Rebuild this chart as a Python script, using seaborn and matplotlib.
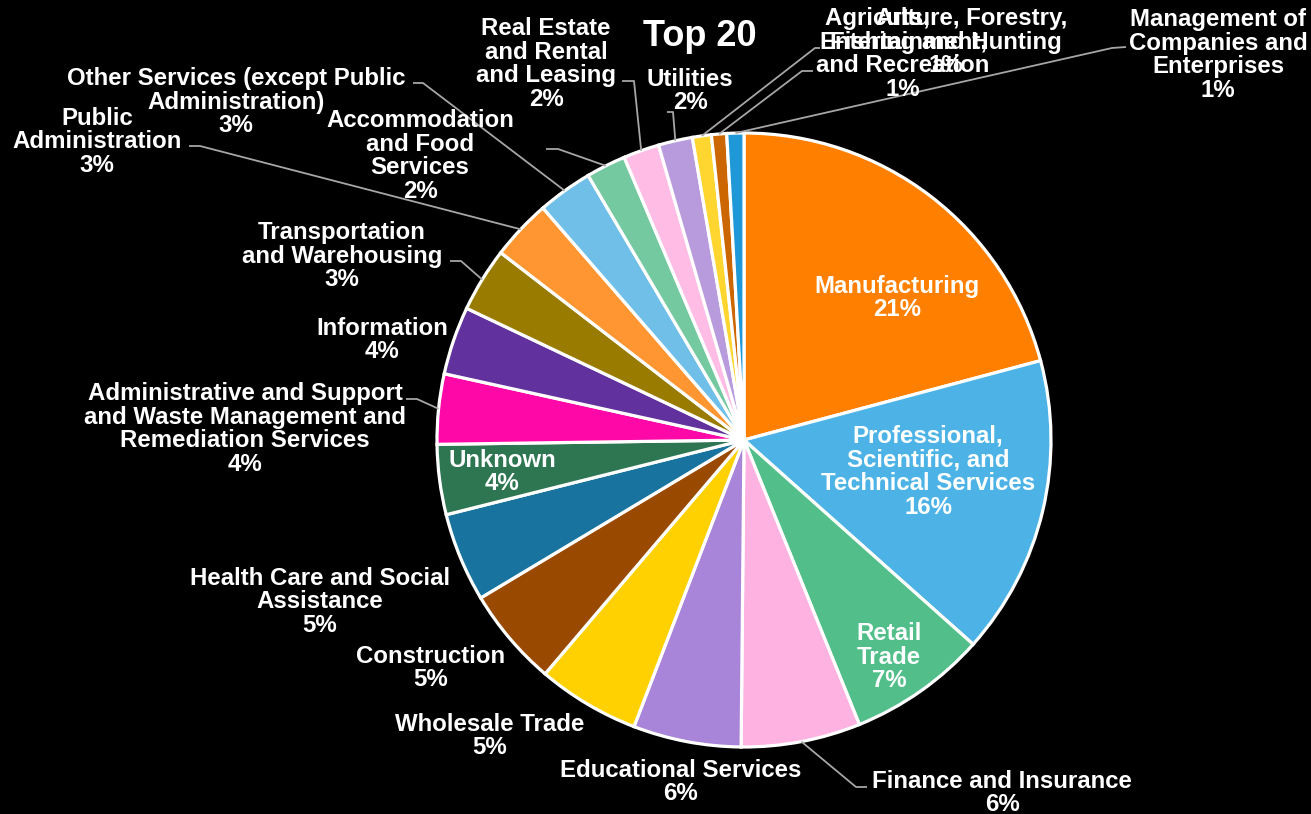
import numpy as np
import matplotlib
matplotlib.use("Agg")
import matplotlib.pyplot as plt
import seaborn as sns

# Industry shares of the top 20 sectors (percent of total)
categories = [
    "Manufacturing",
    "Professional,\nScientific, and\nTechnical Services",
    "Retail\nTrade",
    "Finance and Insurance",
    "Educational Services",
    "Wholesale Trade",
    "Construction",
    "Health Care and Social\nAssistance",
    "Unknown",
    "Administrative and Support\nand Waste Management and\nRemediation Services",
    "Information",
    "Transportation\nand Warehousing",
    "Public\nAdministration",
    "Other Services (except Public\nAdministration)",
    "Accommodation\nand Food\nServices",
    "Real Estate\nand Rental\nand Leasing",
    "Utilities",
    "Agriculture, Forestry,\nFishing and Hunting",
    "Arts,\nEntertainment,\nand Recreation",
    "Management of\nCompanies and\nEnterprises",
]
shares = [20.9, 15.8, 7.3, 6.3, 5.7, 5.4, 5.2, 4.7, 3.7, 3.7,
          3.6, 3.4, 3.2, 2.9, 2.1, 1.9, 1.8, 1.0, 0.8, 0.9]
colors = [
    "#FF7F00", "#4DB3E6", "#52BF8A", "#FDB2E1", "#A885D8",
    "#FFD100", "#994A00", "#18749F", "#2D7651", "#FF08A8",
    "#61329E", "#997B00", "#FF9632", "#6FBFE8", "#74C9A0",
    "#FFBDE6", "#B89BDD", "#FFD630", "#CC6600", "#1E98D6",
]

W, H = 1311, 814
sns.set_theme(style="dark", rc={"figure.facecolor": "black", "axes.facecolor": "black"})
plt.rcParams["font.family"] = ["Liberation Sans", "DejaVu Sans"]


def px(x, y):
    """Canvas pixel position (origin top-left) to data coordinates."""
    return x, H - y


# Label anchor (text-block centre) for each slice, in canvas pixels
label_pos = [
    (897, 298), (928, 472), (889, 657), (1002, 793), (681, 782),
    (490, 736), (431, 668), (320, 602), (502, 472), (245, 429),
    (382, 340), (342, 256), (97, 142), (236, 102), (420, 156),
    (546, 64), (690, 91), (946, 42), (903, 54), (1218, 55),
]
# Leader lines: slice index -> (text end point, elbow point)
leaders = {
    3: ((867, 787), (856, 787)),
    9: ((406, 399), (417, 399)),
    11: ((450, 261), (461, 261)),
    12: ((189, 146), (200, 146)),
    13: ((413, 83), (423, 83)),
    14: ((546, 149), (558, 149)),
    15: ((622, 81), (634, 81)),
    16: ((667, 112), (673, 112)),
    17: ((820, 48), (815, 48)),
    18: ((813, 71), (802, 71)),
    19: ((1126, 47), (1112, 48)),
}

fig = plt.figure(figsize=(W / 100, H / 100), dpi=100, facecolor="black")
ax = fig.add_axes([0, 0, 1, 1])
ax.set_facecolor("black")

center = px(744, 440)
radius = 307
wedges, _ = ax.pie(
    shares, colors=colors, startangle=90, counterclock=False,
    center=center, radius=radius,
    wedgeprops=dict(edgecolor="white", linewidth=2.3),
)
ax.set_xlim(0, W)
ax.set_ylim(0, H)
ax.set_aspect("equal")
ax.axis("off")

total = sum(shares)
font = dict(color="white", fontweight="bold", fontsize=17.3,
            ha="center", va="center", linespacing=1.04)

for i, (name, val) in enumerate(zip(categories, shares)):
    text = f"{name}\n{val / total * 100:.0f}%"
    x, y = px(*label_pos[i])
    ax.text(x, y, text, multialignment="center", **font)
    if i in leaders:
        w = wedges[i]
        mid = np.deg2rad((w.theta1 + w.theta2) / 2)
        wx = center[0] + radius * np.cos(mid)
        wy = center[1] + radius * np.sin(mid)
        (ex, ey), (bx, by) = leaders[i]
        ex, ey = px(ex, ey)
        bx, by = px(bx, by)
        ax.plot([wx, bx, ex], [wy, by, ey], color="#A6A6A6", lw=1.3,
                solid_capstyle="butt", zorder=1)

ax.text(*px(700, 37), "Top 20", color="white", fontweight="bold",
        fontsize=26, ha="center", va="center")

fig.savefig("out.png", dpi=100, facecolor="black")
